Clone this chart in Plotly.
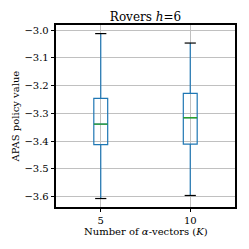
import plotly.graph_objects as go

categories = ["5", "10"]
q1 = [-3.413, -3.411]
median = [-3.339, -3.316]
q3 = [-3.246, -3.228]
lower_whisker = [-3.607, -3.596]
upper_whisker = [-3.013, -3.047]

C0 = "#1f77b4"
C2 = "#2ca02c"
FONT = "DejaVu Serif"

fig = go.Figure()
# main boxes
fig.add_trace(go.Box(
    x=categories, q1=q1, median=median, q3=q3,
    lowerfence=lower_whisker, upperfence=upper_whisker,
    width=0.155, whiskerwidth=0,
    fillcolor="rgba(0,0,0,0)", line=dict(color=C0, width=1.2),
    boxpoints=False, showlegend=False, hoverinfo="skip",
))
# green median lines (degenerate boxes)
fig.add_trace(go.Box(
    x=categories, q1=median, median=median, q3=median,
    lowerfence=median, upperfence=median,
    width=0.155, whiskerwidth=0,
    fillcolor="rgba(0,0,0,0)", line=dict(color=C2, width=1.4),
    boxpoints=False, showlegend=False, hoverinfo="skip",
))
# black caps at whisker ends
fig.add_trace(go.Scatter(
    x=categories + categories, y=lower_whisker + upper_whisker,
    mode="markers",
    marker=dict(symbol="line-ew", size=8, line=dict(color="black", width=1.2)),
    showlegend=False, hoverinfo="skip",
))

fig.update_layout(
    width=249, height=249,
    margin=dict(l=56, r=12, t=25, b=42),
    paper_bgcolor="white", plot_bgcolor="white",
    boxmode="overlay",
    font=dict(family=FONT, size=10, color="black"),
    title=dict(text="Rovers <i>h</i>=6", x=0.5, xanchor="center",
               xref="paper", y=0.933, yanchor="middle",
               font=dict(family=FONT, size=12, color="black")),
    annotations=[
        dict(text="Number of <i>α</i>-vectors (<i>K</i>)", xref="paper", yref="paper",
             x=0.5, y=-0.133, xanchor="center", yanchor="middle",
             showarrow=False, font=dict(family=FONT, size=10)),
        dict(text="APAS policy value", xref="paper", yref="paper",
             x=-0.2265, y=0.5, xanchor="center", yanchor="middle", textangle=-90,
             showarrow=False, font=dict(family=FONT, size=10)),
    ],
)
fig.update_xaxes(
    type="category", range=[-0.5, 1.5],
    showline=True, linecolor="black", linewidth=1.5, mirror=True,
    ticks="outside", ticklen=3.5, tickwidth=0.8, tickcolor="black",
    showgrid=True, gridcolor="#c0c0c0", gridwidth=0.8,
    tickfont=dict(family=FONT, size=10),
)
fig.update_yaxes(
    range=[-3.6375, -2.982], tickvals=[-3.6, -3.5, -3.4, -3.3, -3.2, -3.1, -3.0],
    tickformat=".1f",
    showline=True, linecolor="black", linewidth=1.5, mirror=True,
    ticks="outside", ticklen=3.5, tickwidth=0.8, tickcolor="black",
    showgrid=True, gridcolor="#c0c0c0", gridwidth=0.8, zeroline=False,
    tickfont=dict(family=FONT, size=10),
)

fig.write_html("out.html", config={"displayModeBar": False},
               post_script="document.body.style.margin='0';document.body.style.padding='0';")
